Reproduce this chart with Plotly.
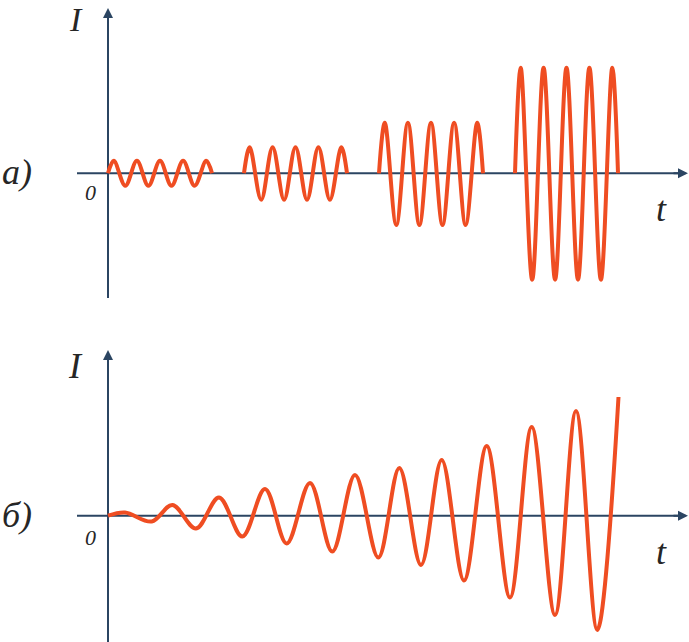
import plotly.graph_objects as go

# ---- data (t and I in arbitrary units) ----
# panel a): four wave trains; key points = start, alternating peaks/troughs, end
burst1_t = [0.0, 0.58, 1.73, 2.89, 4.04, 5.20, 6.35, 7.51, 8.66, 9.82, 10.4]
burst1_I = [0, 1.25, -1.25, 1.25, -1.25, 1.25, -1.25, 1.25, -1.25, 1.25, 0]
burst2_t = [13.6, 14.17, 15.32, 16.46, 17.61, 18.75, 19.9, 21.04, 22.19, 23.33, 23.9]
burst2_I = [0, 2.6, -2.65, 2.6, -2.65, 2.6, -2.65, 2.6, -2.65, 2.6, 0]
burst3_t = [27.1, 27.68, 28.83, 29.99, 31.14, 32.3, 33.45, 34.61, 35.76, 36.92, 37.5]
burst3_I = [0, 5.06, -5.17, 5.06, -5.17, 5.06, -5.17, 5.06, -5.17, 5.06, 0]
burst4_t = [40.7, 41.27, 42.42, 43.56, 44.71, 45.85, 47.0, 48.14, 49.29, 50.43, 51.0]
burst4_I = [0, 10.56, -10.64, 10.56, -10.64, 10.56, -10.64, 10.56, -10.64, 10.56, 0]

# panel б): growing oscillation, key points = start, extrema, end
growth_t = [0.0, 1.7, 4.37, 6.43, 8.8, 11.1, 13.43, 15.7, 17.87, 20.2, 22.43, 24.7,
            27.03, 29.13, 31.3, 33.37, 35.6, 37.87, 40.2, 42.37, 44.7, 46.8, 48.93, 51.05]
growth_I = [0.0, 0.32, -0.58, 1.07, -1.28, 1.82, -2.08, 2.67, -2.78, 3.27, -3.58, 4.07,
            -4.18, 4.77, -4.93, 5.57, -6.48, 6.97, -8.18, 8.87, -9.93, 10.47, -11.43, 11.87]

panel_labels = ["<i>a)</i>", "<i>б)</i>"]
axis_I_label = "<i>I</i>"
axis_t_label = "<i>t</i>"
origin_label = "<i>0</i>"

RED = "#EF4D22"
AX = "#2B4562"
TXT = "#262626"
W, H = 689, 642

fig = go.Figure()
for t, I in [(burst1_t, burst1_I), (burst2_t, burst2_I), (burst3_t, burst3_I), (burst4_t, burst4_I)]:
    fig.add_trace(go.Scatter(x=t, y=I, mode="lines", xaxis="x", yaxis="y",
                             line=dict(color=RED, width=4, shape="spline", smoothing=1),
                             hoverinfo="skip", showlegend=False))
fig.add_trace(go.Scatter(x=growth_t, y=growth_I, mode="lines", xaxis="x2", yaxis="y2",
                         line=dict(color=RED, width=4, shape="spline", smoothing=1),
                         hoverinfo="skip", showlegend=False))

xr = [-10.8, 58.1]
ax_common = dict(visible=False, fixedrange=True)
fig.update_layout(
    width=W, height=H,
    margin=dict(l=0, r=0, t=0, b=0),
    paper_bgcolor="white", plot_bgcolor="white",
    xaxis=dict(range=xr, domain=[0, 1], anchor="y", **ax_common),
    yaxis=dict(range=[-14.77, 17.33], domain=[0.5, 1], anchor="x", **ax_common),
    xaxis2=dict(range=xr, domain=[0, 1], anchor="y2", **ax_common),
    yaxis2=dict(range=[-12.63, 19.47], domain=[0, 0.5], anchor="x2", **ax_common),
)

shapes = []
annotations = []
# axes for both panels
for xref, yref, ybot, ytop in [("x", "y", -12.47, 16.53), ("x2", "y2", -12.63, 16.57)]:
    shapes.append(dict(type="line", xref=xref, yref=yref, x0=0, x1=0, y0=ybot, y1=ytop - 0.6,
                       line=dict(color=AX, width=2), layer="below"))
    shapes.append(dict(type="line", xref=xref, yref=yref, x0=-3.1, x1=57.4, y0=0, y1=0,
                       line=dict(color=AX, width=2), layer="below"))
    annotations.append(dict(xref=xref, yref=yref, x=0, y=ytop, ax=0, ay=16, text="",
                            showarrow=True, arrowhead=2, arrowwidth=2, arrowsize=1, arrowcolor=AX))
    annotations.append(dict(xref=xref, yref=yref, x=58.0, y=0, ax=-16, ay=0, text="",
                            showarrow=True, arrowhead=2, arrowwidth=2, arrowsize=1, arrowcolor=AX))

def lab(text, px, py, size, yanchor="middle"):
    annotations.append(dict(xref="paper", yref="paper", x=px / W, y=1 - py / H,
                            xanchor="center", yanchor=yanchor, text=text, showarrow=False,
                            borderpad=0,
                            font=dict(family="Liberation Serif", size=size, color=TXT)))

lab(axis_I_label, 76, 0, 34, yanchor="top")
lab(axis_t_label, 661, 209, 36)
lab(panel_labels[0], 17, 172, 36)
lab(origin_label, 90, 192, 22)
lab(axis_I_label, 75, 366, 36)
lab(axis_t_label, 661, 552, 36)
lab(panel_labels[1], 17, 515, 36)
lab(origin_label, 90, 537, 22)

fig.update_layout(shapes=shapes, annotations=annotations)
fig.write_html("out.html", config={"displayModeBar": False},
               post_script="document.body.style.margin='0';")
